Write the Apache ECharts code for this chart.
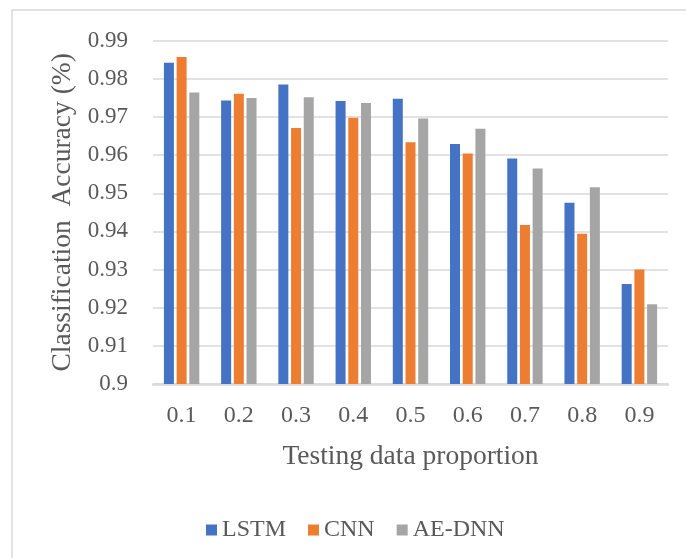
<!DOCTYPE html>
<html>
<head>
<meta charset="utf-8">
<script src="https://cdn.jsdelivr.net/npm/echarts@6/dist/echarts.min.js"></script>
<style>html,body{margin:0;padding:0;background:#fff;}#c{width:686px;height:558px;}</style>
</head>
<body>
<div id="c"></div>
<script>
const categories = ['0.1','0.2','0.3','0.4','0.5','0.6','0.7','0.8','0.9'];
const lstm  = [0.9842,0.9743,0.9785,0.9742,0.9748,0.9629,0.9591,0.9475,0.9262];
const cnn   = [0.9857,0.9761,0.9671,0.9698,0.9634,0.9604,0.9417,0.9394,0.9300];
const aednn = [0.9764,0.9750,0.9752,0.9737,0.9696,0.9669,0.9565,0.9516,0.9209];
const seriesNames = ['LSTM','CNN','AE-DNN'];
const colors = ['#4472C4','#ED7D31','#A5A5A5'];

const font = 'Liberation Serif';
const txt = '#595959';
const chart = echarts.init(document.getElementById('c'), null, {renderer:'canvas'});
chart.setOption({
  animation: false,
  backgroundColor: '#fff',
  graphic: [{
    type: 'rect', shape: {x: 12, y: 10, width: 700, height: 600},
    style: {fill: 'none', stroke: '#d9d9d9', lineWidth: 1.5}, silent: true
  }],
  grid: {left: 153, right: 18, top: 40.7, bottom: 174},
  legend: {
    left: 201, top: 513, itemWidth: 11, itemHeight: 11, itemGap: 22,
    icon: 'rect',
    textStyle: {fontFamily: font, fontSize: 24, color: txt},
    data: seriesNames
  },
  xAxis: {
    type: 'category', data: categories,
    axisTick: {show: false},
    axisLine: {lineStyle: {color: '#d9d9d9', width: 2.5}},
    axisLabel: {fontFamily: font, fontSize: 24, color: txt, margin: 20},
    name: 'Testing data proportion', nameLocation: 'middle', nameGap: 59,
    nameTextStyle: {fontFamily: font, fontSize: 27.5, color: txt}
  },
  yAxis: {
    type: 'value', min: 0.9, max: 0.99, interval: 0.01,
    axisLine: {show: false}, axisTick: {show: false},
    splitLine: {lineStyle: {color: '#d9d9d9', width: 1.5}},
    axisLabel: {fontFamily: font, fontSize: 23, color: txt, margin: 25,
      formatter: v => String(+v.toFixed(2))},
    name: 'Classification  Accuracy (%)', nameLocation: 'middle', nameGap: 76,
    nameTextStyle: {fontFamily: font, fontSize: 27.5, color: txt}
  },
  series: [lstm, cnn, aednn].map((d, i) => ({
    name: seriesNames[i], type: 'bar', data: d, barWidth: 10, barGap: '27%',
    itemStyle: {color: colors[i]}
  }))
});
</script>
</body>
</html>
